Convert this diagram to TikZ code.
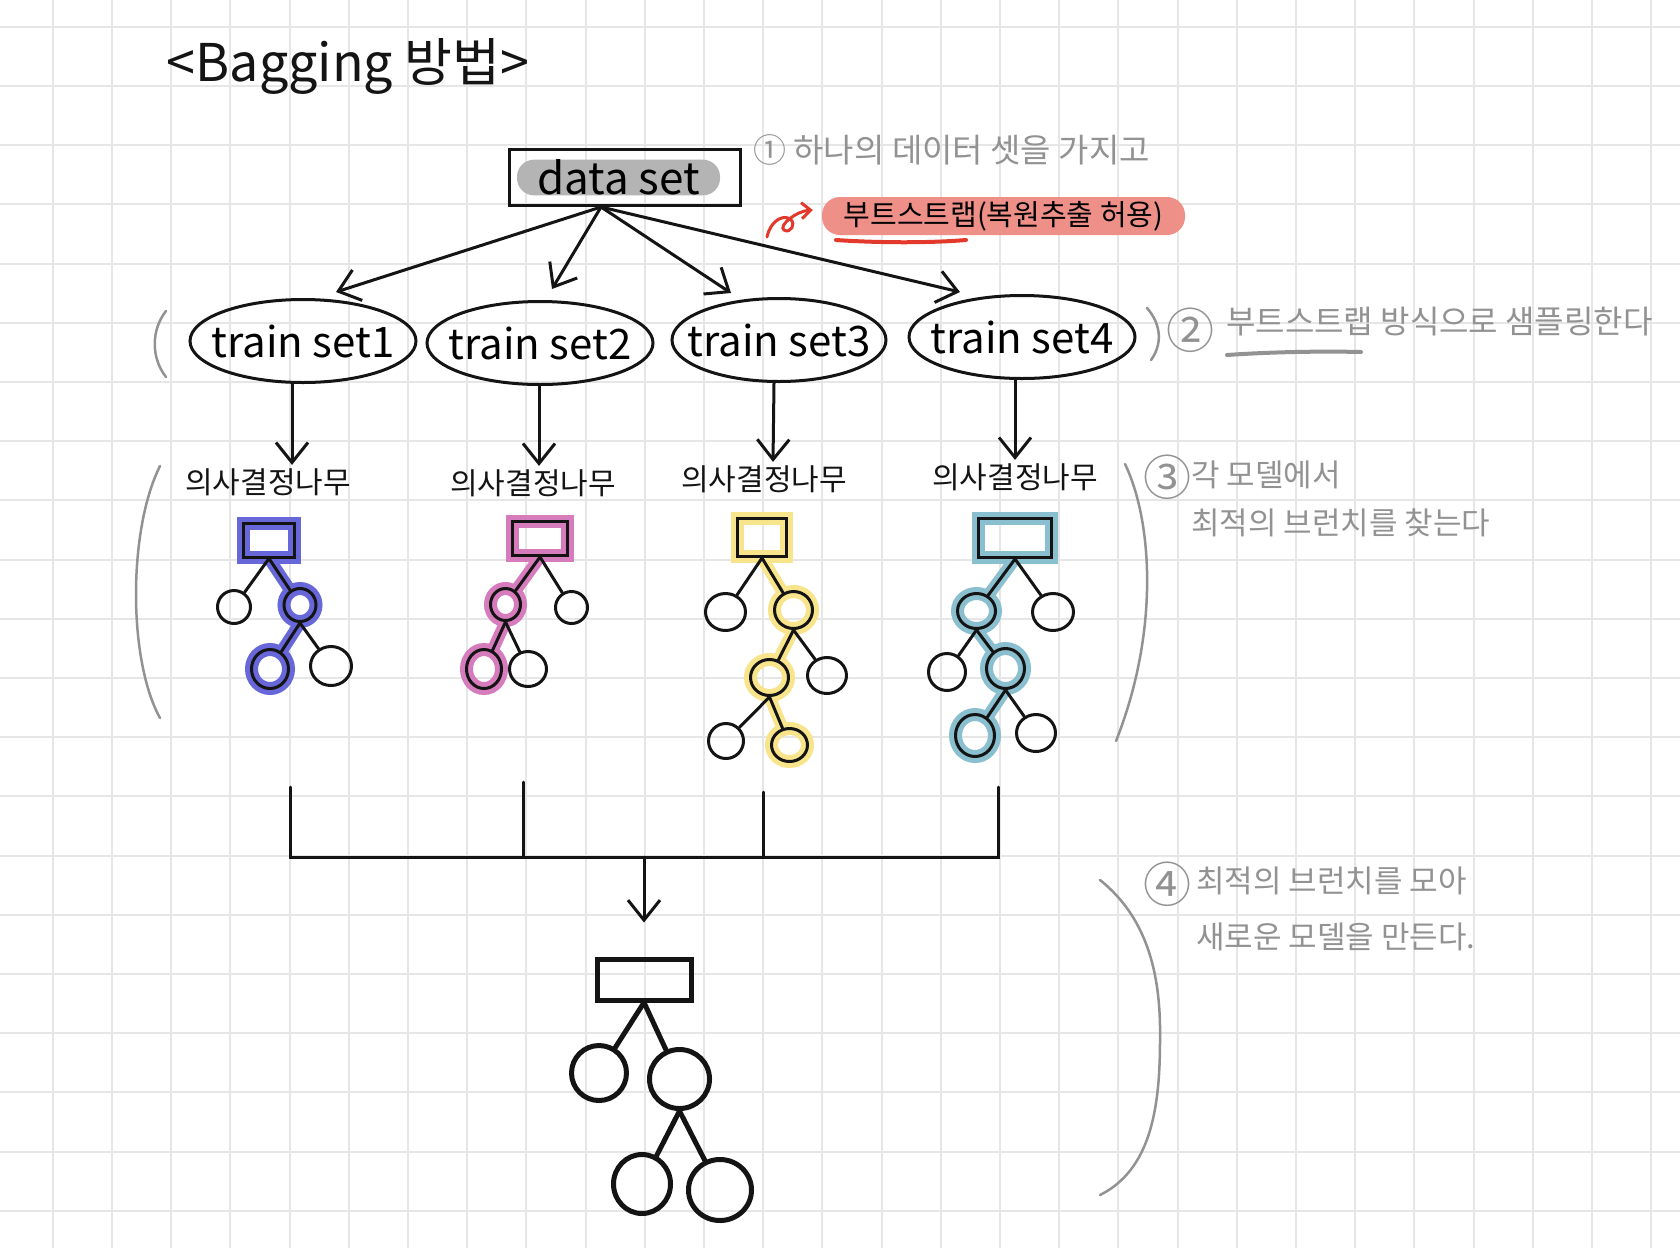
\documentclass[tikz,border=0pt]{standalone}
\usepackage{fontspec}
\setmainfont{Noto Sans CJK KR}
\usepackage{tikz}
\usetikzlibrary{arrows.meta,positioning,shapes.geometric}
\definecolor{baggingInk}{HTML}{141414}
\definecolor{baggingGrid}{HTML}{E6E6E6}
\definecolor{baggingNote}{HTML}{929292}
\definecolor{baggingPill}{HTML}{B4B4B4}
\definecolor{baggingSalmon}{HTML}{EE9088}
\definecolor{baggingRed}{HTML}{E2392C}
\definecolor{treeBlue}{HTML}{6767DA}
\definecolor{treePink}{HTML}{D67CBC}
\definecolor{treeYellow}{HTML}{F8E48A}
\definecolor{treeTeal}{HTML}{8ABFCF}
\pgfdeclarelayer{paper}
\pgfdeclarelayer{marker}
\pgfsetlayers{paper,marker,main}
\tikzset{
  gridline/.style={
    draw=baggingGrid,
    line width=2pt
  },
  titletext/.style={
    font=\fontsize{52}{56}\selectfont,
    text=baggingInk,
    inner sep=0pt
  },
  databox/.style={
    rectangle,
    draw=baggingInk,
    line width=3pt,
    minimum width=231pt,
    minimum height=56pt,
    inner sep=0pt
  },
  datapill/.style={
    rectangle,
    rounded corners=17pt,
    fill=baggingPill,
    minimum width=203pt,
    minimum height=35pt,
    inner sep=0pt,
    font=\fontsize{44}{46}\selectfont
  },
  bootnote/.style={
    rectangle,
    rounded corners=18pt,
    fill=baggingSalmon,
    minimum width=363pt,
    minimum height=38pt,
    inner sep=0pt,
    font=\fontsize{29}{30}\selectfont
  },
  trainset/.style={
    ellipse,
    draw=baggingInk,
    line width=3pt,
    minimum width=226pt,
    minimum height=83pt,
    inner xsep=-16pt,
    inner ysep=0pt,
    font=\fontsize{42}{44}\selectfont
  },
  treelabel/.style={
    font=\fontsize{30}{32}\selectfont,
    text=baggingInk
  },
  note/.style={
    font=\fontsize{31}{48}\selectfont,
    text=baggingNote,
    inner sep=0pt,
    align=left
  },
  notenum/.style={
    font=\fontsize{48}{50}\selectfont,
    text=baggingNote,
    inner sep=0pt
  },
  rootbox/.style={
    rectangle,
    draw=baggingInk,
    line width=3pt,
    inner sep=0pt
  },
  leafnode/.style={
    ellipse,
    draw=baggingInk,
    line width=3pt,
    inner sep=0pt
  },
  marked/.style={
    preaction={draw=#1, line width=13pt}
  },
  markline/.style={
    draw=#1,
    line width=12pt,
    line cap=round
  },
  branch/.style={
    draw=baggingInk,
    line width=3pt,
    line cap=round
  },
  arrow/.style={
    -{Straight Barb[length=20pt,width=32pt]},
    line width=3pt,
    draw=baggingInk,
    line cap=round
  },
  redcurl/.style={
    -{Straight Barb[length=9pt,width=16pt]},
    line width=3pt,
    draw=baggingRed,
    line cap=round
  },
  paren/.style={
    draw=baggingNote,
    line width=2.5pt,
    line cap=round
  }
}

\begin{document}
\begin{tikzpicture}[x=1pt,y=-1pt]
  \useasboundingbox (0,0) rectangle (1680,1248);
  \begin{pgfonlayer}{paper}
    \fill[white] (0,0) rectangle (1680,1248);
    \foreach \gx in {0,...,27} \draw[gridline] ({52.7+59.2*\gx},0) -- ++(0,1248);
    \foreach \gy in {0,...,20} \draw[gridline] (0,{26.7+59.2*\gy}) -- ++(1680,0);
  \end{pgfonlayer}

  % title and data set
  \node[titletext] (title) at (348,66) {<Bagging 방법>};
  \node[databox] (dataset) at (625,177.5) {};
  \node[datapill] (datatext) at (618.5,177.5) {data set};
  \node[note,anchor=west,font=\fontsize{33}{36}\selectfont] (noteOne) at (753,150) {① 하나의 데이터 셋을 가지고};
  \node[bootnote] (bootNote) at (1003.5,216) {부트스트랩(복원추출 허용)};
  \coordinate (curlStart) at (767,237);
  \draw[redcurl] (curlStart) .. controls (770,222) and (782,214) .. (790,219) .. controls (797,224) and (790,234) .. (784,230) .. controls (778,226) and (796,211) .. ([xshift=-9pt,yshift=6pt]bootNote.west);
  \draw[draw=baggingRed,line width=4pt,line cap=round] (836,240) .. controls (880,243) and (930,243) .. (966,240);

  % bootstrap samples
  \node[trainset] (trainOne) at (303,341) {train set1};
  \node[trainset] (trainTwo) at (540,343) {train set2};
  \node[trainset,minimum width=214pt] (trainThree) at (779,340) {train set3};
  \node[trainset] (trainFour) at (1022,337) {train set4};
  \draw[arrow] ([xshift=-24pt]dataset.south) -- ([xshift=33pt,yshift=6pt]trainOne.north);
  \draw[arrow] ([xshift=-24pt]dataset.south) -- ([xshift=12pt,yshift=11pt]trainTwo.north);
  \draw[arrow] ([xshift=-24pt]dataset.south) -- ([xshift=-48pt,yshift=4pt]trainThree.north);
  \draw[arrow] ([xshift=-24pt]dataset.south) -- ([xshift=-62pt,yshift=2pt]trainFour.north);
  \draw[paren] (166,311) .. controls (151,330) and (151,358) .. (166,377);
  \draw[paren] (1147,308) .. controls (1162,325) and (1162,345) .. (1151,360);
  \node[notenum] (numTwo) at (1190.5,330) {②};
  \node[note,anchor=west,font=\fontsize{32}{34}\selectfont] (noteTwo) at (1226,322) {부트스트랩 방식으로 샘플링한다};
  \draw[paren,line width=4pt] (1227,355) .. controls (1270,352) and (1320,351) .. (1361,352);

  % one decision tree per sample
  \node[treelabel] (labelOne) at (268,482) {의사결정나무};
  \node[treelabel] (labelTwo) at (533,483) {의사결정나무};
  \node[treelabel] (labelThree) at (764,479) {의사결정나무};
  \node[treelabel] (labelFour) at (1015,477) {의사결정나무};
  \draw[arrow] ([xshift=-11pt]trainOne.south) -- ([xshift=24pt]labelOne.north);
  \draw[arrow] ([xshift=-1pt]trainTwo.south) -- ([xshift=6pt]labelTwo.north);
  \draw[arrow] ([xshift=-5pt]trainThree.south) -- ([xshift=9pt]labelThree.north);
  \draw[arrow] ([xshift=-7pt]trainFour.south) -- (labelFour.north);

  \node[rootbox,marked=treeBlue,minimum width=51pt,minimum height=34pt] (blueRoot) at (269,540) {};
  \node[leafnode,minimum width=33pt,minimum height=33pt] (blueL) at (234,607) {};
  \node[leafnode,marked=treeBlue,minimum width=32pt,minimum height=33pt] (blueR) at (300,605) {};
  \node[leafnode,marked=treeBlue,minimum width=37pt,minimum height=39pt] (blueRL) at (270,669) {};
  \node[leafnode,minimum width=41pt,minimum height=39pt] (blueRR) at (331,666) {};
  \draw[branch] (blueRoot.south) -- (blueL);
  \draw[branch] (blueRoot.south) -- (blueR);
  \draw[branch] (blueR.south) -- (blueRL);
  \draw[branch] (blueR.south) -- (blueRR);

  \node[rootbox,marked=treePink,minimum width=55pt,minimum height=34pt] (pinkRoot) at (540,538.5) {};
  \node[leafnode,marked=treePink,minimum width=30pt,minimum height=32pt] (pinkL) at (505.5,604.5) {};
  \node[leafnode,minimum width=32pt,minimum height=32pt] (pinkR) at (571.5,607.5) {};
  \node[leafnode,marked=treePink,minimum width=35pt,minimum height=39pt] (pinkLL) at (484,669) {};
  \node[leafnode,minimum width=37pt,minimum height=35pt] (pinkLR) at (528,669) {};
  \draw[branch] (pinkRoot.south) -- (pinkL);
  \draw[branch] (pinkRoot.south) -- (pinkR);
  \draw[branch] (pinkL.south) -- (pinkLL);
  \draw[branch] (pinkL.south) -- (pinkLR);

  \node[rootbox,marked=treeYellow,minimum width=49pt,minimum height=38pt] (yellowRoot) at (762,537.5) {};
  \node[leafnode,minimum width=40pt,minimum height=37pt] (yellowL) at (725.5,612) {};
  \node[leafnode,marked=treeYellow,minimum width=38pt,minimum height=37pt] (yellowR) at (793.5,610) {};
  \node[leafnode,marked=treeYellow,minimum width=38pt,minimum height=36pt] (yellowRL) at (769.5,677.5) {};
  \node[leafnode,minimum width=39pt,minimum height=36pt] (yellowRR) at (827,675.5) {};
  \node[leafnode,minimum width=35pt,minimum height=35pt] (yellowRLL) at (726,741) {};
  \node[leafnode,marked=treeYellow,minimum width=36pt,minimum height=33pt] (yellowRLR) at (789.5,745) {};
  \draw[branch] (yellowRoot.south) -- (yellowL);
  \draw[branch] (yellowRoot.south) -- (yellowR);
  \draw[branch] (yellowR.south) -- (yellowRL);
  \draw[branch] (yellowR.south) -- (yellowRR);
  \draw[branch] (yellowRL.south) -- (yellowRLL);
  \draw[branch] (yellowRL.south) -- (yellowRLR);

  \node[rootbox,marked=treeTeal,minimum width=73pt,minimum height=39pt] (tealRoot) at (1015,538) {};
  \node[leafnode,marked=treeTeal,minimum width=38pt,minimum height=35pt] (tealL) at (976.5,611) {};
  \node[leafnode,minimum width=41pt,minimum height=37pt] (tealR) at (1053,612) {};
  \node[leafnode,minimum width=37pt,minimum height=37pt] (tealLL) at (947,672) {};
  \node[leafnode,marked=treeTeal,minimum width=38pt,minimum height=40pt] (tealLR) at (1005.5,668.5) {};
  \node[leafnode,marked=treeTeal,minimum width=39pt,minimum height=42pt] (tealLRL) at (975,735.5) {};
  \node[leafnode,minimum width=39pt,minimum height=37pt] (tealLRR) at (1036,733) {};
  \draw[branch] (tealRoot.south) -- (tealL);
  \draw[branch] (tealRoot.south) -- (tealR);
  \draw[branch] (tealL.south) -- (tealLL);
  \draw[branch] (tealL.south) -- (tealLR);
  \draw[branch] (tealLR.south) -- (tealLRL);
  \draw[branch] (tealLR.south) -- (tealLRR);

  \begin{pgfonlayer}{marker}
    \draw[markline=treeBlue] (blueRoot.south) -- (blueR);
    \draw[markline=treeBlue] (blueR.south) -- (blueRL);
    \draw[markline=treePink] (pinkRoot.south) -- (pinkL);
    \draw[markline=treePink] (pinkL.south) -- (pinkLL);
    \draw[markline=treeYellow] (yellowRoot.south) -- (yellowR);
    \draw[markline=treeYellow] (yellowR.south) -- (yellowRL);
    \draw[markline=treeYellow] (yellowRL.south) -- (yellowRLR);
    \draw[markline=treeTeal] (tealRoot.south) -- (tealL);
    \draw[markline=treeTeal] (tealL.south) -- (tealLR);
    \draw[markline=treeTeal] (tealLR.south) -- (tealLRL);
  \end{pgfonlayer}

  \draw[paren] (160,466) .. controls (128,530) and (128,660) .. (160,718);
  \draw[paren] (1125,464) .. controls (1152,520) and (1160,630) .. (1116,741);
  \node[notenum] (numThree) at (1167.5,477.5) {③};
  \node[note,anchor=west] (noteThree) at (1191,499) {각 모델에서\\최적의 브런치를 찾는다};

  % merge into one model
  \coordinate (dropOne) at (290,787);
  \coordinate (dropTwo) at (523,782);
  \coordinate (dropThree) at (763,792);
  \coordinate (dropFour) at (998,787);
  \coordinate (barMid) at (644,857);
  \draw[branch] (dropOne) -- (dropOne |- barMid) -- (dropFour |- barMid) -- (dropFour);
  \draw[branch] (dropTwo) -- (dropTwo |- barMid);
  \draw[branch] (dropThree) -- (dropThree |- barMid);

  \node[rootbox,line width=5pt,minimum width=94pt,minimum height=41pt] (mergeRoot) at (644,979.5) {};
  \node[leafnode,line width=5pt,minimum width=55pt,minimum height=55pt] (mergeL) at (599,1073) {};
  \node[leafnode,line width=5pt,minimum width=60pt,minimum height=59pt] (mergeR) at (679.5,1079) {};
  \node[leafnode,line width=5pt,minimum width=57pt,minimum height=59pt] (mergeRL) at (642,1184) {};
  \node[leafnode,line width=5pt,minimum width=63pt,minimum height=61pt] (mergeRR) at (720,1190) {};
  \draw[arrow,shorten >=34pt] (barMid) -- (mergeRoot.north);
  \draw[branch,line width=5pt] (mergeRoot.south) -- (mergeL);
  \draw[branch,line width=5pt] (mergeRoot.south) -- (mergeR);
  \draw[branch,line width=5pt] (mergeR.south) -- (mergeRL);
  \draw[branch,line width=5pt] (mergeR.south) -- (mergeRR);

  \draw[paren] (1100,880) .. controls (1150,920) and (1161,980) .. (1160,1040) .. controls (1160,1110) and (1150,1170) .. (1100,1195);
  \node[notenum] (numFour) at (1167,884.5) {④};
  \node[note,anchor=west,font=\fontsize{31}{56}\selectfont] (noteFour) at (1196,909) {최적의 브런치를 모아\\새로운 모델을 만든다.};
\end{tikzpicture}
\end{document}
